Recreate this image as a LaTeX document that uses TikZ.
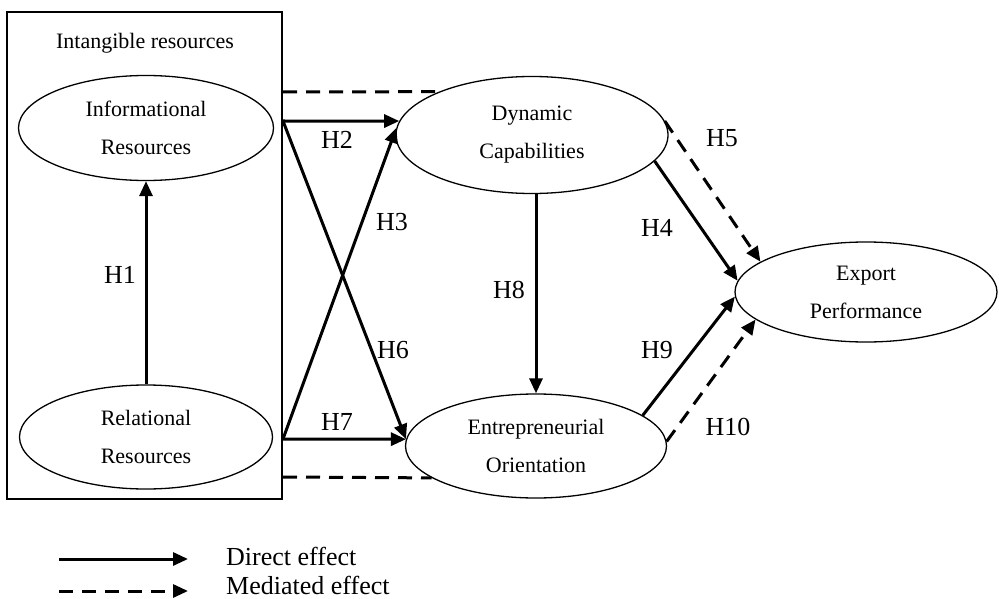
\documentclass[tikz,border=0pt]{standalone}
\usepackage{fontspec}
\setmainfont{Liberation Serif}
\usetikzlibrary{shapes.geometric,arrows.meta}
\begin{document}
\begin{tikzpicture}[x=1pt,y=-1pt,
  construct/.style={ellipse, draw, line width=1.3pt, inner sep=0pt, align=center, font=\fontsize{22}{38}\selectfont},
  direct/.style={line width=3pt, -{Triangle[length=15pt,width=13pt]}},
  mediated/.style={line width=3pt, dash pattern=on 14pt off 9pt, -{Triangle[length=15pt,width=13pt]}},
  link/.style={line width=3pt, dash pattern=on 14pt off 9pt},
  hyp/.style={font=\fontsize{26}{30}\selectfont, inner sep=0pt},
  legendtext/.style={font=\fontsize{26}{30}\selectfont, anchor=base west, inner sep=0pt}]
\useasboundingbox (0,0) rectangle (999,599);

% group box
\node[draw, line width=2pt, minimum width=275pt, minimum height=487pt, inner sep=0pt] (box) at (144.5,255.5) {};
\node[font=\fontsize{22}{26}\selectfont, inner sep=0pt] (title) at (145,43) {Intangible resources};

% constructs
\node[construct, minimum width=255pt, minimum height=105pt] (info) at (146,128) {Informational\\Resources};
\node[construct, minimum width=253pt, minimum height=104pt] (rel) at (146,437) {Relational\\Resources};
\node[construct, minimum width=272pt, minimum height=117pt] (dc) at (532,135) {Dynamic\\Capabilities};
\node[construct, minimum width=261pt, minimum height=104pt] (eo) at (536,446) {Entrepreneurial\\Orientation};
\node[construct, minimum width=262pt, minimum height=100pt] (ep) at (866,292) {Export\\Performance};

% points on the box edge
\coordinate (bt) at (box.east |- 0,92);
\coordinate (b2) at (box.east |- 0,121);
\coordinate (b7) at (box.east |- 0,439);
\coordinate (bb) at (box.east |- 0,477);

% connectors
\draw[direct] (rel.north) -- (info.south);
\draw[link] (bt) -- (dc.155);
\draw[link] (bb) -- (eo.197);
\draw[direct] (b2) -- (dc.174);
\draw[direct] (b7) -- (dc.177);
\draw[direct] (b2) -- (eo.177);
\draw[direct] (b7) -- (eo.177);
\draw[direct] (eo.north |- dc.south) -- (eo.north);
\draw[direct] (dc.-12) -- (ep.175);
\draw[mediated] (dc.6) -- (ep.164);
\draw[direct] (eo.16) -- (ep.182);
\draw[mediated] (eo.2) -- (ep.194);

% hypothesis labels
\node[hyp] (h1) at (120,275) {H1};
\node[hyp] (h2) at (337,140) {H2};
\node[hyp] (h3) at (392,222) {H3};
\node[hyp] (h4) at (657,228) {H4};
\node[hyp] (h5) at (722,138) {H5};
\node[hyp] (h6) at (393,350) {H6};
\node[hyp] (h7) at (337,422) {H7};
\node[hyp] (h8) at (509,290) {H8};
\node[hyp] (h9) at (657,350) {H9};
\node[hyp] (h10) at (728,427) {H10};

% legend
\coordinate (l1a) at (59,559);
\coordinate (l1b) at (188,559);
\coordinate (l2a) at (59,591);
\coordinate (l2b) at (188,591);
\draw[direct] (l1a) -- (l1b);
\draw[mediated] (l2a) -- (l2b);
\node[legendtext] (lt1) at (226,565) {Direct effect};
\node[legendtext] (lt2) at (226,594) {Mediated effect};
\end{tikzpicture}
\end{document}
